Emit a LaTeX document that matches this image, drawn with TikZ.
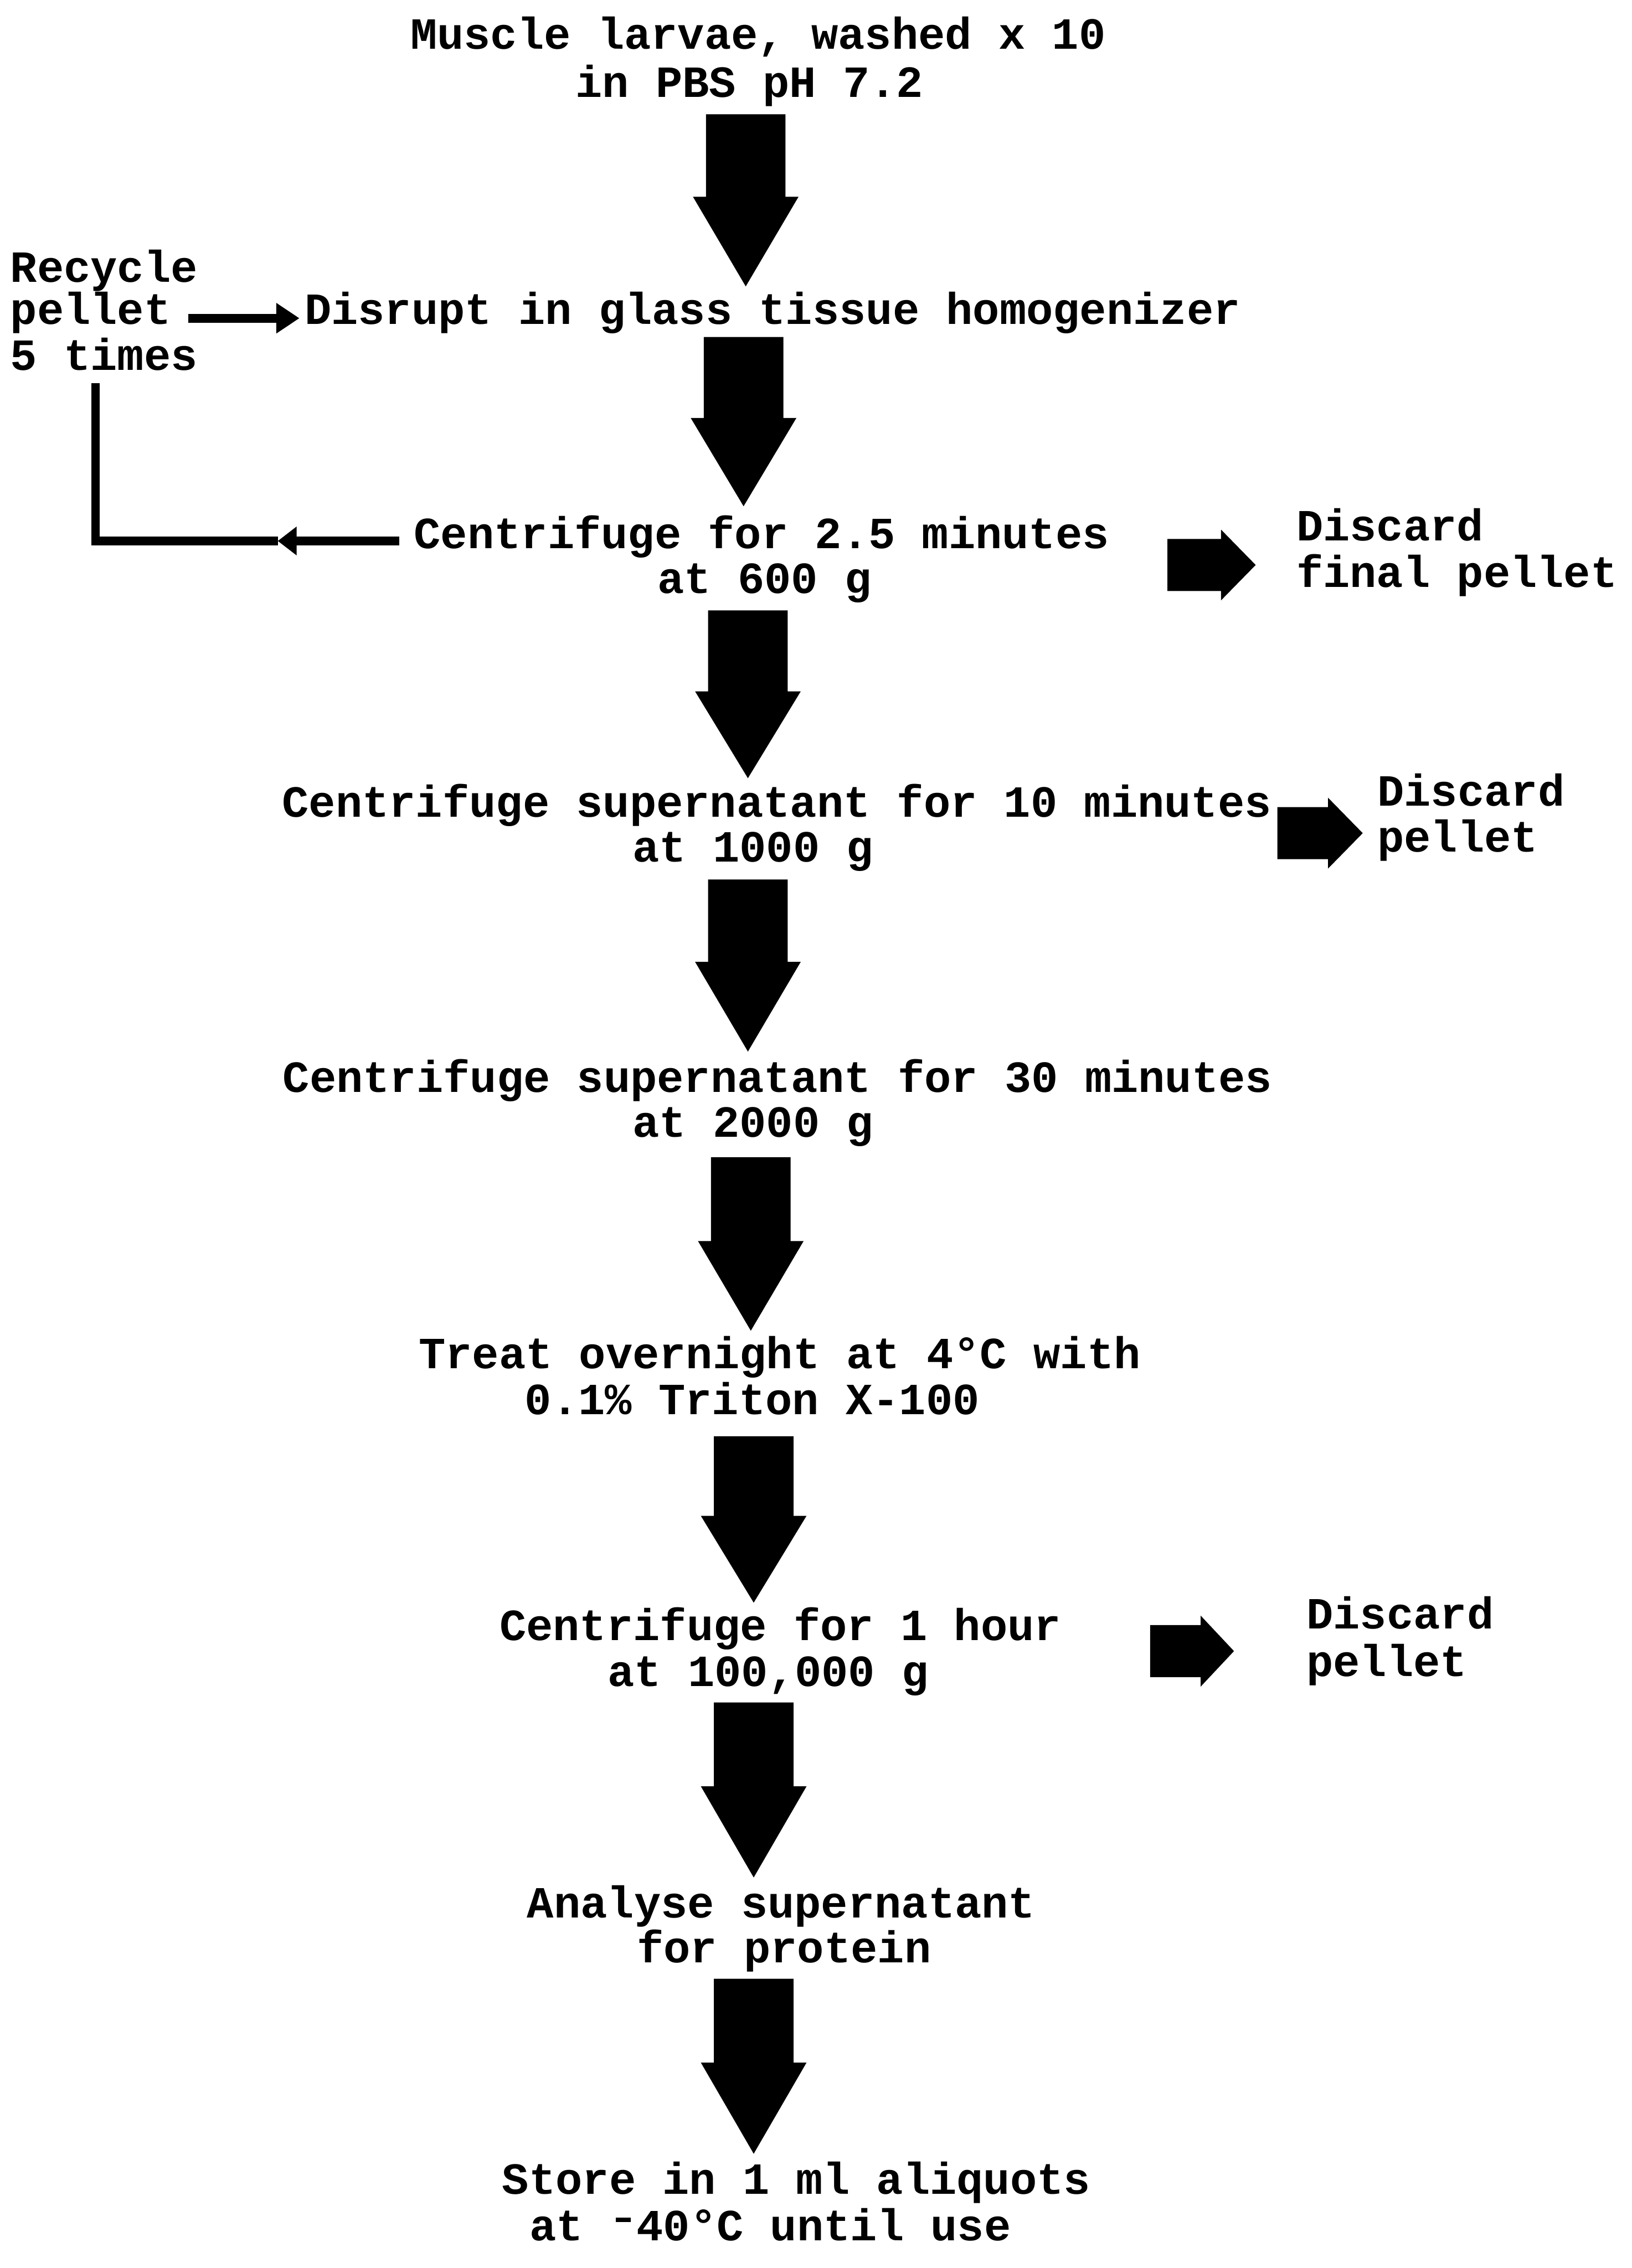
\documentclass[tikz,border=0pt]{standalone}
\usepackage{fontspec}
\newfontfamily\tw{Liberation Mono}
\usetikzlibrary{arrows.meta}
% block arrow pointing down: centre x, top y, flare y, tip y
\newcommand\blockdown[4]{\fill[black] ({#1-27.5},#2) -- ({#1+27.5},#2) -- ({#1+27.5},#3) -- ({#1+36.5},#3) -- (#1,#4) -- ({#1-36.5},#3) -- ({#1-27.5},#3) -- cycle;}
% block arrow pointing right: left x, head base x, tip x, centre y
\newcommand\blockright[4]{\fill[black] (#1,{#4-18}) -- (#2,{#4-18}) -- (#2,{#4-24.5}) -- (#3,#4) -- (#2,{#4+24.5}) -- (#2,{#4+18}) -- (#1,{#4+18}) -- cycle;}
% raised typewriter minus sign occupying one character cell
\newcommand\rminus{\makebox[0.6em]{\rule[0.42em]{0.34em}{0.09em}}}
\begin{document}
\begin{tikzpicture}[x=1pt,y=-1pt,
  lbl/.style={font=\tw\bfseries\fontsize{30.8}{32}\selectfont, inner sep=0pt, anchor=base},
  lblw/.style={lbl, anchor=base west},
  thinline/.style={line width=6pt, line join=miter}]
\fill[white] (0,0) rectangle (1128,1568);
\useasboundingbox (0,0) rectangle (1128,1568);

% main column
\node[lbl] (m1) at (524,34) {Muscle larvae, washed x 10};
\node[lbl] (m2) at (518,67) {in PBS pH 7.2};
\node[lbl] (d1) at (534,224) {Disrupt in glass tissue homogenizer};
\node[lbl] (c1) at (526.5,379) {Centrifuge for 2.5 minutes};
\node[lbl] (c1b) at (528.5,410) {at 600 g};
\node[lbl] (c2) at (537,565) {Centrifuge supernatant for 10 minutes};
\node[lbl] (c2b) at (520.5,596) {at 1000 g};
\node[lbl] (c3) at (537.5,755) {Centrifuge supernatant for 30 minutes};
\node[lbl] (c3b) at (520.5,786) {at 2000 g};
\node[lbl] (t1) at (539,946) {Treat overnight at 4°C with};
\node[lbl] (t2) at (520,978) {0.1\% Triton X-100};
\node[lbl] (h1) at (539.4,1134) {Centrifuge for 1 hour};
\node[lbl] (h2) at (531,1166) {at 100,000 g};
\node[lbl] (a1) at (540,1326) {Analyse supernatant};
\node[lbl] (a2) at (542,1357) {for protein};
\node[lbl] (s1) at (550.5,1517) {Store in 1 ml aliquots};
\node[lbl] (s2) at (532.5,1549) {at \rminus40°C until use};

% side labels
\node[lblw] (r1) at (7,195) {Recycle};
\node[lblw] (r2) at (7,224) {pellet};
\node[lblw] (r3) at (7,256) {5 times};
\node[lblw] (da1) at (896,374) {Discard};
\node[lblw] (da2) at (896,406) {final pellet};
\node[lblw] (db1) at (952,557) {Discard};
\node[lblw] (db2) at (952,589) {pellet};
\node[lblw] (dc1) at (903,1126) {Discard};
\node[lblw] (dc2) at (903,1159) {pellet};

% big downward arrows
\blockdown{515.5}{79}{136}{198}
\blockdown{514}{233}{289}{350}
\blockdown{517}{422}{478}{538}
\blockdown{517}{608}{665}{727}
\blockdown{519}{800}{858}{920}
\blockdown{521}{993}{1048}{1108}
\blockdown{521}{1177}{1235}{1298}
\blockdown{521}{1368}{1426}{1489}

% discard arrows
\blockright{807}{844}{868}{390.6}
\blockright{883}{918}{942}{576}
\blockright{795}{830}{853}{1141.5}

% recycle loop
\coordinate (pa) at (130,220);
\coordinate (pb) at (207,220);
\draw[thinline, -{Triangle[length=16pt,width=20pt]}] (pa) -- (pb);
\coordinate (la) at (276,374);
\coordinate (lb) at (192,374);
\coordinate (lc) at (66,374);
\coordinate (ld) at (66,265);
\draw[thinline, -{Triangle[length=13pt,width=19pt]}] (la) -- (lb);
\draw[thinline] (lb) -- (lc) -- (ld);
\end{tikzpicture}
\end{document}
